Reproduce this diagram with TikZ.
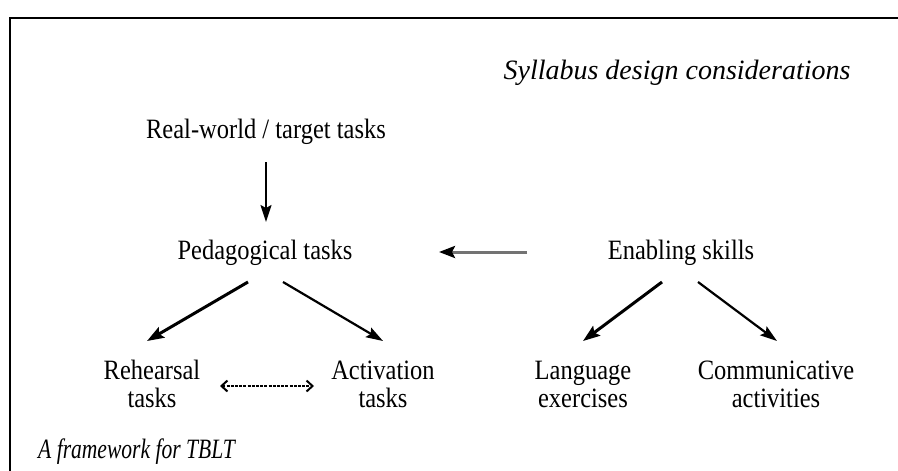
\documentclass[tikz,border=0pt]{standalone}
\usepackage{fontspec}
\setmainfont{Liberation Serif}
\usetikzlibrary{arrows.meta}
\newcommand{\lbltxt}[1]{\scalebox{0.875}[1]{\setlength{\tabcolsep}{0pt}\begin{tabular}{c}#1\end{tabular}}}
\begin{document}
\begin{tikzpicture}[x=1pt,y=-1pt,
  lbl/.style={font=\fontsize{28}{28}\selectfont, align=center, inner sep=0pt},
  ital/.style={font=\fontsize{28}{28}\selectfont\itshape, inner sep=0pt},
  arr/.style={-{Stealth[length=17pt,width=11pt,inset=3pt]}, line width=1.8pt},
  thickarr/.style={-{Stealth[length=17pt,width=12pt,inset=3pt]}, line width=3pt},
  grayarr/.style={-{Stealth[length=16pt,width=12pt,inset=3pt,color=black]}, line width=3pt, draw=black!55},
  dasharr/.style={{Straight Barb[length=6pt,width=11pt]}-{Straight Barb[length=6pt,width=11pt]}, line width=2pt, dash pattern=on 3pt off 1.2pt}]
\useasboundingbox (0,0) rectangle (898,471);
\fill[white] (0,0) rectangle (898,471);
\draw[line width=1.3pt] (10,471) -- (10,18) -- (898,18);

\node[ital] (syl) at (677,73) {Syllabus design considerations};
\node[lbl] (rw) at (266,133) {\lbltxt{Real-world / target tasks}};
\node[lbl] (ped) at (265,254) {\lbltxt{Pedagogical tasks}};
\node[lbl] (en) at (681,254) {\lbltxt{Enabling skills}};
\node[lbl] (reh) at (152,388) {\lbltxt{Rehearsal\\tasks}};
\node[lbl] (act) at (383,388) {\lbltxt{Activation\\tasks}};
\node[lbl] (lang) at (583,388) {\lbltxt{Language\\exercises}};
\node[lbl] (comm) at (776,388) {\lbltxt{Communicative\\activities}};
\node[ital, anchor=west] (fw) at (38,452) {\scalebox{0.77}[1]{A framework for TBLT}};

\coordinate (rwS) at (266,162);
\coordinate (pedN) at (266,222);
\coordinate (enW) at (527,252);
\coordinate (pedE) at (439,252);
\coordinate (p1) at (248,282); \coordinate (rehN) at (147,341);
\coordinate (p2) at (283,282); \coordinate (actN) at (383,341);
\coordinate (e1) at (662,282); \coordinate (langN) at (583,341);
\coordinate (e2) at (698,282); \coordinate (commN) at (777,341);
\coordinate (dL) at (220,386); \coordinate (dR) at (314,386);

\draw[arr] (rwS) -- (pedN);
\draw[grayarr] (enW) -- (pedE);
\draw[thickarr] (p1) -- (rehN);
\draw[arr, line width=2.2pt] (p2) -- (actN);
\draw[thickarr] (e1) -- (langN);
\draw[arr, line width=2.2pt] (e2) -- (commN);
\draw[dasharr] (dL) -- (dR);
\end{tikzpicture}
\end{document}
